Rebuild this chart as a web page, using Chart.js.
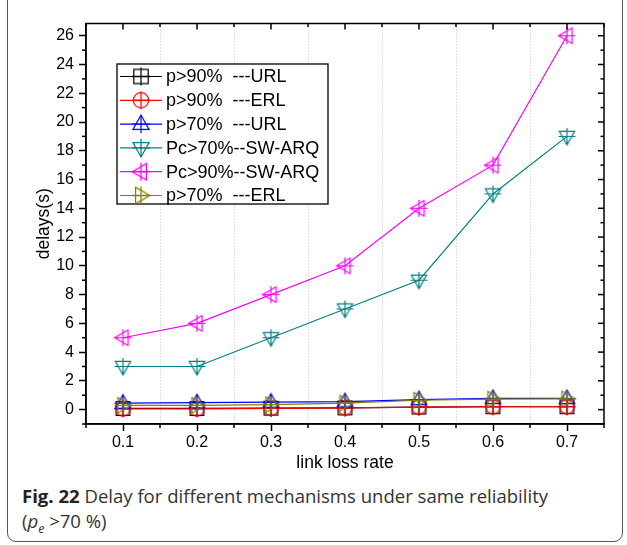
<!DOCTYPE html>
<html>
<head>
<meta charset="utf-8">
<script src="https://cdn.jsdelivr.net/npm/chart.js@4.4.3/dist/chart.umd.min.js"></script>
<style>
  html, body { margin: 0; padding: 0; background: #fff; }
  body { width: 627px; height: 545px; position: relative; overflow: hidden; }
  #card { position: absolute; left: 7px; top: -20px; width: 616px; height: 562px;
          border: 1px solid #555; border-radius: 9px; box-sizing: border-box; }
  #wrap { position: absolute; left: 0; top: 0; width: 627px; height: 480px; }
  #caption { position: absolute; left: 22px; top: 484px; font-family: "Open Sans", sans-serif;
             font-size: 18px; line-height: 25px; color: #333; white-space: nowrap; transform-origin: 0 0; }
  #caption b { color: #222; }
  #caption sub { font-size: 12px; line-height: 0; }
</style>
</head>
<body>
<div id="card"></div>
<div id="wrap"><canvas id="chart" width="627" height="480"></canvas></div>
<div id="caption"><span id="line1"><b>Fig. 22</b> Delay for different mechanisms under same reliability</span><br>(<i>p</i><sub><i>e</i></sub> &gt;70 %)</div>

<script>
// ---- data ----
const linkLoss = [0.1, 0.2, 0.3, 0.4, 0.5, 0.6, 0.7];
const xTicks = [0.1, 0.2, 0.3, 0.4, 0.5, 0.6, 0.7];
const xMinorTicks = [0.05, 0.15, 0.25, 0.35, 0.45, 0.55, 0.65, 0.75];
const xGrid = [0.15, 0.25, 0.35, 0.45, 0.55, 0.65];
const yTicks = [0, 2, 4, 6, 8, 10, 12, 14, 16, 18, 20, 22, 24, 26];
const yMinorTicks = [-1, 1, 3, 5, 7, 9, 11, 13, 15, 17, 19, 21, 23, 25];

const seriesNames = [
  "p>90%  ---URL",
  "p>90%  ---ERL",
  "p>70%  ---URL",
  "Pc>70%--SW-ARQ",
  "Pc>90%--SW-ARQ",
  "p>70%  ---ERL",
];
const urlP90 = [0.08, 0.08, 0.1, 0.12, 0.18, 0.2, 0.2];
const erlP90 = [0.05, 0.05, 0.08, 0.12, 0.18, 0.2, 0.2];
const urlP70 = [0.45, 0.48, 0.52, 0.55, 0.7, 0.78, 0.78];
const arqPc70 = [3, 3, 5, 7, 9, 15, 19];
const arqPc90 = [5, 6, 8, 10, 14, 17, 26];
const erlP70 = [0.3, 0.3, 0.35, 0.45, 0.65, 0.73, 0.75];

const seriesValues = [urlP90, erlP90, urlP70, arqPc70, arqPc90, erlP70];
const seriesColors = ["#000000", "#ff0000", "#0000ff", "#008080", "#ff00ff", "#808000"];
const seriesShapes = ["square", "circle", "up", "down", "left", "right"];

// ---- Origin-style hollow markers with a cross through them ----
function makeMarker(shape, color, size) {
  const c = document.createElement("canvas");
  const dim = size + 4;
  c.width = c.height = dim;
  const g = c.getContext("2d");
  const m = dim / 2, r = size / 2;
  g.strokeStyle = color;
  g.lineWidth = 1.2;
  g.beginPath();
  if (shape === "square") {
    g.rect(m - r * 0.8, m - r * 0.8, r * 1.6, r * 1.6);
  } else if (shape === "circle") {
    g.arc(m, m, r * 0.85, 0, Math.PI * 2);
  } else {
    const rot = { up: 0, right: Math.PI / 2, down: Math.PI, left: -Math.PI / 2 }[shape];
    const pts = [[0, -r], [r * 0.9, r * 0.6], [-r * 0.9, r * 0.6]];
    pts.forEach(([px, py], i) => {
      const x = m + px * Math.cos(rot) - py * Math.sin(rot);
      const y = m + px * Math.sin(rot) + py * Math.cos(rot);
      i ? g.lineTo(x, y) : g.moveTo(x, y);
    });
    g.closePath();
  }
  g.stroke();
  g.beginPath();
  g.moveTo(m - r, m); g.lineTo(m + r, m);
  g.moveTo(m, m - r); g.lineTo(m, m + r);
  g.stroke();
  return c;
}

const plotMarkers = seriesShapes.map((s, i) => makeMarker(s, seriesColors[i], 17));
const legendMarkers = seriesShapes.map((s, i) => makeMarker(s, seriesColors[i], 18));

// gridlines + mirrored frame and minor ticks
const framePlugin = {
  id: "frame",
  beforeDatasetsDraw(chart) {
    const { ctx, chartArea: a, scales: { x } } = chart;
    ctx.save();
    ctx.strokeStyle = "#c4c4c4";
    ctx.lineWidth = 1;
    ctx.setLineDash([1, 2]);
    xGrid.forEach(v => {
      const px = Math.round(x.getPixelForValue(v)) + 0.5;
      ctx.beginPath(); ctx.moveTo(px, a.top); ctx.lineTo(px, a.bottom); ctx.stroke();
    });
    ctx.restore();
  },
  afterDatasetsDraw(chart) {
    const { ctx, chartArea: a, scales: { x, y } } = chart;
    ctx.save();
    ctx.strokeStyle = "#000";
    ctx.lineWidth = 1.5;
    ctx.strokeRect(a.left, a.top, a.right - a.left, a.bottom - a.top);
    const tick = (x1, y1, x2, y2) => { ctx.beginPath(); ctx.moveTo(x1, y1); ctx.lineTo(x2, y2); ctx.stroke(); };
    xTicks.forEach(v => { const px = x.getPixelForValue(v); tick(px, a.top, px, a.top + 6); });
    xMinorTicks.forEach(v => {
      const px = x.getPixelForValue(v);
      tick(px, a.top, px, a.top + 3.5);
      tick(px, a.bottom, px, a.bottom + 4);
    });
    yTicks.forEach(v => { const py = y.getPixelForValue(v); tick(a.right, py, a.right - 6, py); });
    yMinorTicks.forEach(v => {
      const py = y.getPixelForValue(v);
      tick(a.right, py, a.right - 3.5, py);
      tick(a.left, py, a.left - 4, py);
    });
    ctx.restore();
  },
};

// boxed legend inside the plot, Origin style
const legendPlugin = {
  id: "boxLegend",
  afterDraw(chart) {
    const { ctx } = chart;
    const bx = 117, by = 64, bw = 211, bh = 140;
    ctx.save();
    ctx.fillStyle = "#fff";
    ctx.fillRect(bx, by, bw, bh);
    ctx.strokeStyle = "#000";
    ctx.lineWidth = 1.3;
    ctx.strokeRect(bx, by, bw, bh);
    ctx.font = '18px "Liberation Sans", Arial, sans-serif';
    ctx.textBaseline = "middle";
    ctx.fillStyle = "#000";
    seriesNames.forEach((name, i) => {
      const cy = by + 12.5 + i * 23.8;
      ctx.strokeStyle = seriesColors[i];
      ctx.lineWidth = 1.2;
      ctx.beginPath(); ctx.moveTo(120, cy); ctx.lineTo(162, cy); ctx.stroke();
      const mk = legendMarkers[i];
      ctx.drawImage(mk, 141 - mk.width / 2, cy - mk.height / 2);
      ctx.fillText(name, 166, cy + 1);
    });
    ctx.restore();
  },
};

const axisFont = { family: '"Liberation Sans", Arial, sans-serif', size: 16 };
const titleFont = { family: '"Liberation Sans", Arial, sans-serif', size: 17.5 };

new Chart(document.getElementById("chart"), {
  type: "line",
  data: {
    datasets: seriesNames.map((name, i) => ({
      label: name,
      data: linkLoss.map((v, k) => ({ x: v, y: seriesValues[i][k] })),
      borderColor: seriesColors[i],
      backgroundColor: seriesColors[i],
      borderWidth: 1.2,
      pointStyle: plotMarkers[i],
      pointRadius: 9,
      tension: 0,
      order: seriesNames.length - i,
      clip: false,
    })),
  },
  options: {
    responsive: false,
    animation: false,
    devicePixelRatio: 1,
    layout: { padding: { left: 0, right: 23, top: 23.5, bottom: 0 } },
    plugins: { legend: { display: false }, tooltip: { enabled: false } },
    scales: {
      x: {
        type: "linear",
        min: 0.05,
        max: 0.75,
        afterBuildTicks: s => { s.ticks = xTicks.map(v => ({ value: v })); },
        afterFit: s => { s.height = 56; },
        ticks: { color: "#000", font: axisFont, padding: 2, callback: v => v.toFixed(1) },
        grid: { display: true, drawOnChartArea: false, drawTicks: true, tickLength: 7, tickColor: "#000", tickWidth: 1.5 },
        border: { display: true, color: "#000", width: 1.5 },
        title: { display: true, text: "link loss rate", color: "#000", font: titleFont, padding: { top: 0, bottom: 6 } },
      },
      y: {
        min: -1,
        max: 26.85,
        afterBuildTicks: s => { s.ticks = yTicks.map(v => ({ value: v })); },
        afterFit: s => { s.width = 86; },
        ticks: { color: "#000", font: axisFont, padding: 5, callback: v => String(v) },
        grid: { display: true, drawOnChartArea: false, drawTicks: true, tickLength: 7, tickColor: "#000", tickWidth: 1.5 },
        border: { display: true, color: "#000", width: 1.5 },
        title: { display: true, text: "delays(s)", color: "#000", font: titleFont, padding: { top: 34, bottom: 0 } },
      },
    },
  },
  plugins: [framePlugin, legendPlugin],
});

// squeeze the caption to the reference line width
const line1 = document.getElementById("line1");
const cap = document.getElementById("caption");
const w = line1.getBoundingClientRect().width;
cap.style.transform = "scaleX(" + (526 / w).toFixed(3) + ")";
</script>
</body>
</html>
